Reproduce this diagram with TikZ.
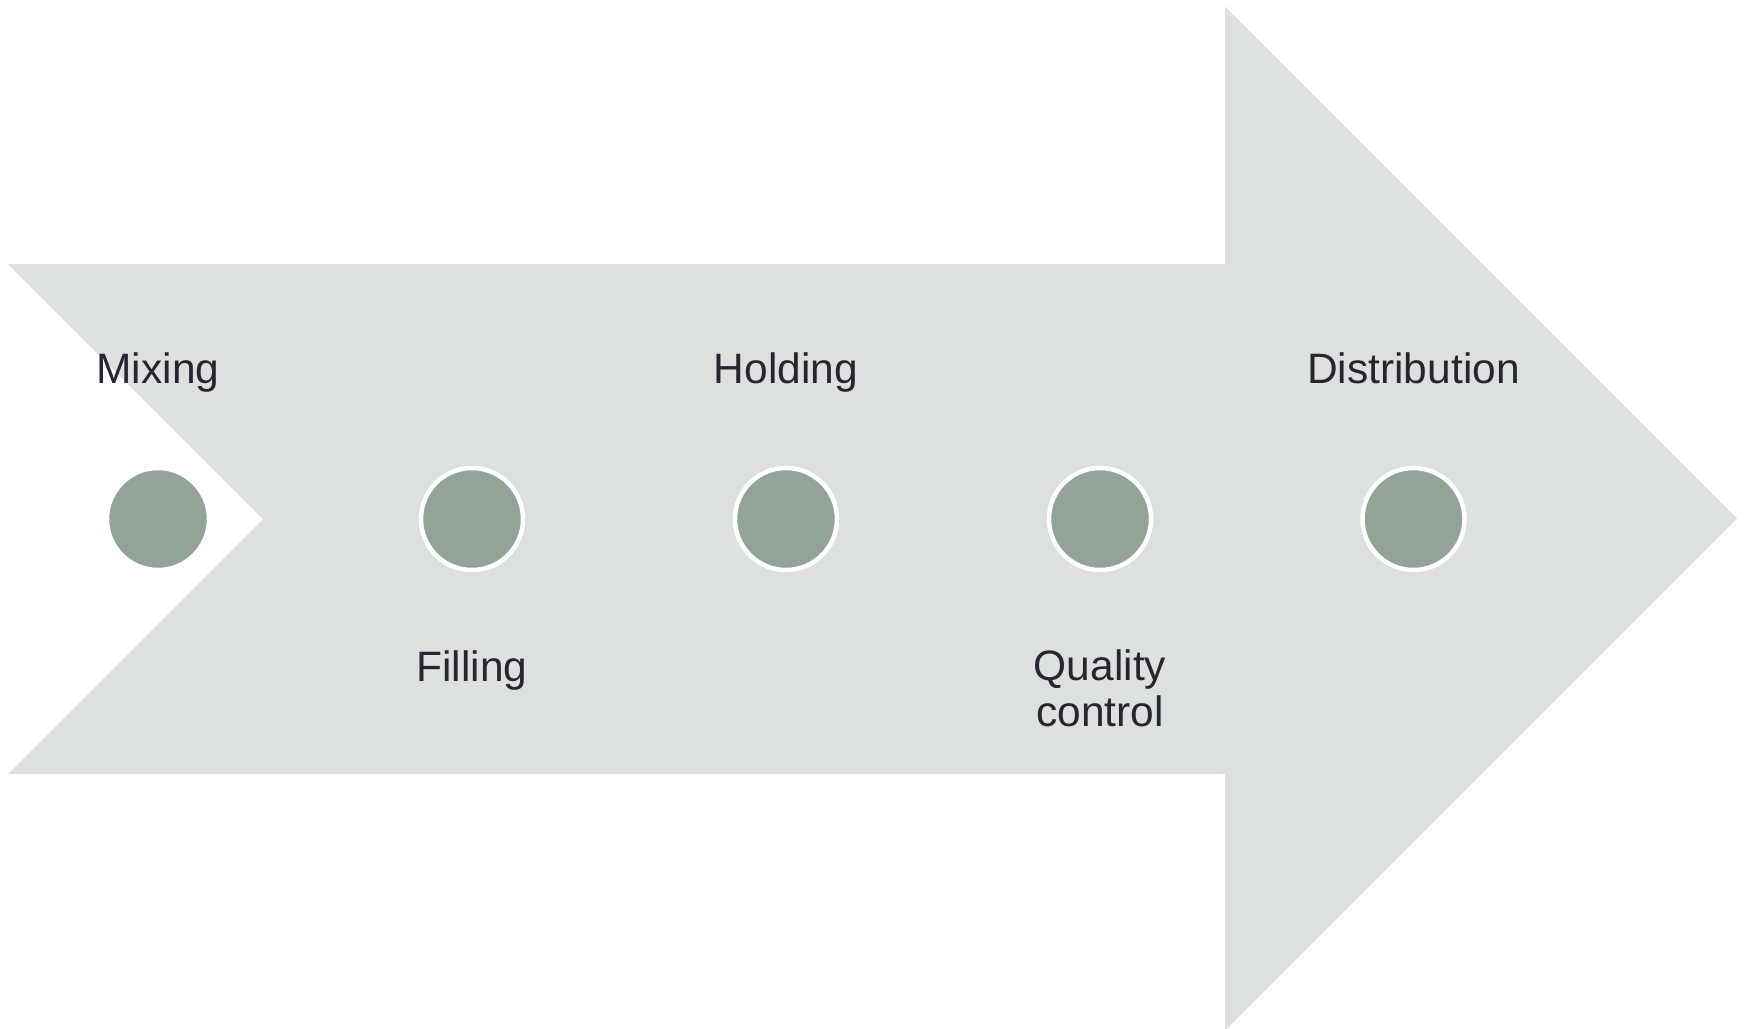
\documentclass[tikz,border=0pt]{standalone}
\usepackage{fontspec}
\setmainfont{Liberation Sans}
\definecolor{bandgrey}{HTML}{DCE0DF}
\definecolor{dotgreen}{HTML}{93A398}
\definecolor{labelink}{HTML}{262631}
\begin{document}
\begin{tikzpicture}[x=1pt,y=-1pt,
  stepdot/.style={circle,minimum size=102pt,inner sep=0pt,fill=dotgreen,draw=white,line width=4.5pt},
  steplabel/.style={anchor=base,text=labelink,font=\fontsize{42.5}{46}\selectfont,align=center,inner sep=0pt}]
\useasboundingbox (0,0) rectangle (1745,1028);
\clip (0,0) rectangle (1745,1028);
% chevron-tailed arrow band
\fill[bandgrey] (8,264) -- (1225,264) -- (1225,6.6) -- (1737,518.6) -- (1225,1030.6)
  -- (1225,774) -- (8,774) -- (263,519) -- cycle;
% process steps
\node[stepdot] (d1) at (158,519) {};
\node[stepdot] (d2) at (472,519) {};
\node[stepdot] (d3) at (786,519) {};
\node[stepdot] (d4) at (1100,519) {};
\node[stepdot] (d5) at (1413.5,519) {};
% labels (base anchor of a two-line label sits on its last line)
\node[steplabel] (l1) at (158,383) {Mixing};
\node[steplabel] (l2) at (472,681) {Filling};
\node[steplabel] (l3) at (786,383) {Holding};
\node[steplabel] (l4) at (1100,726) {Quality\\control};
\node[steplabel] (l5) at (1413.5,383) {Distribution};
\end{tikzpicture}
\end{document}
